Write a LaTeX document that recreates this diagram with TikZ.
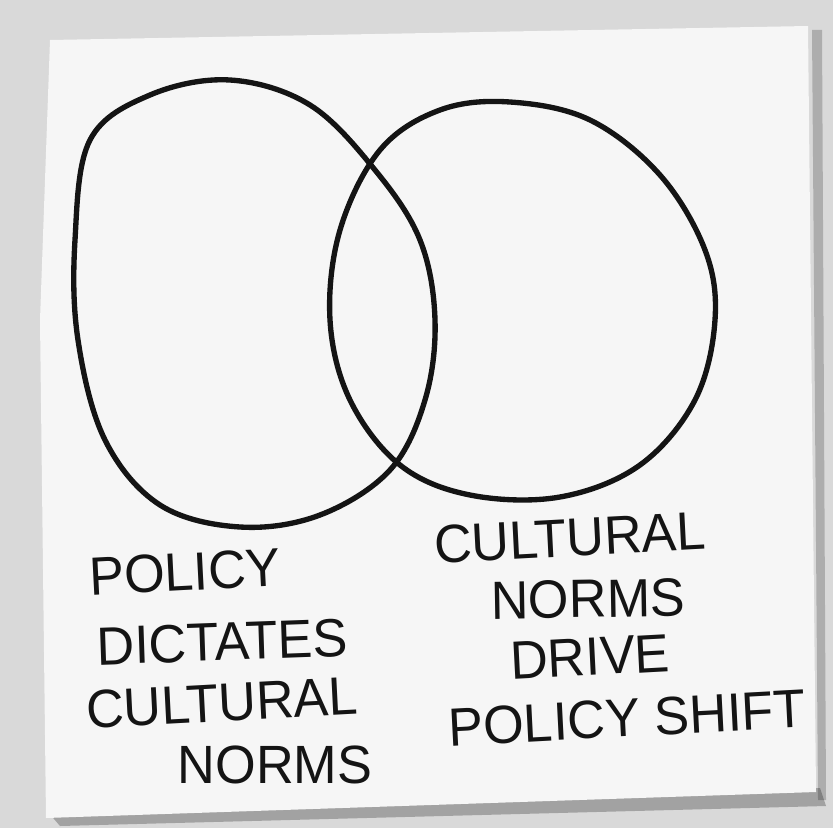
\documentclass[tikz,border=0pt]{standalone}
\usepackage{fontspec}
\setmainfont{Liberation Sans}
\usetikzlibrary{calc}

\definecolor{wallgrey}{gray}{0.85}
\definecolor{notewhite}{gray}{0.965}
\definecolor{inkblack}{gray}{0.08}

\begin{document}
\begin{tikzpicture}
  [
    x = 0.3mm, y = -0.3mm,
    ink/.style = {draw = inkblack, line width = 1.6mm, line cap = round, line join = round},
    every node/.style = {font = \fontsize{46}{46}\selectfont, text = inkblack,
                         inner sep = 0pt, xscale = 0.97},
  ]
  % wall and note
  \fill [wallgrey] (0,0) rectangle (833,828);
  \useasboundingbox (0,0) rectangle (833,828);
  \fill [black, opacity = 0.25] (48,812) -- (820,788) -- (826,806) -- (60,826) -- cycle;
  \fill [black, opacity = 0.2] (812,30) -- (822,30) -- (826,800) -- (818,800) -- cycle;
  \fill [notewhite] (50,40) -- (808,26) -- (816,792) -- (46,818) -- (40,320) -- cycle;

  % the two circles
  \draw [ink] plot [smooth cycle, tension = 0.6] coordinates {
    (90,140) (150,95) (230,80) (310,105) (375,170) (420,240) (435,320)
    (425,400) (390,470) (320,515) (240,527) (160,505) (105,440) (78,340) (75,240)};
  \draw [ink] plot [smooth cycle, tension = 0.6] coordinates {
    (380,150) (440,110) (510,102) (590,120) (660,175) (705,250) (715,320)
    (695,400) (640,465) (560,497) (470,495) (400,465) (350,400) (330,320) (340,230)};

  % left label
  \node [rotate = 3] (policy)   at (185,572) {POLICY};
  \node [rotate = 2] (dictates) at (222,642) {DICTATES};
  \node [rotate = 3] (cultural) at (222,703) {CULTURAL};
  \node              (norms)    at (275,765) {NORMS};

  % right label
  \node [rotate = 3] (cultural2) at (570,538) {CULTURAL};
  \node [rotate = 1] (norms2)    at (588,599) {NORMS};
  \node [rotate = 3] (drive)     at (590,657) {DRIVE};
  \node [rotate = 3] (shift)     at (627,718) {POLICY SHIFT};
\end{tikzpicture}
\end{document}
